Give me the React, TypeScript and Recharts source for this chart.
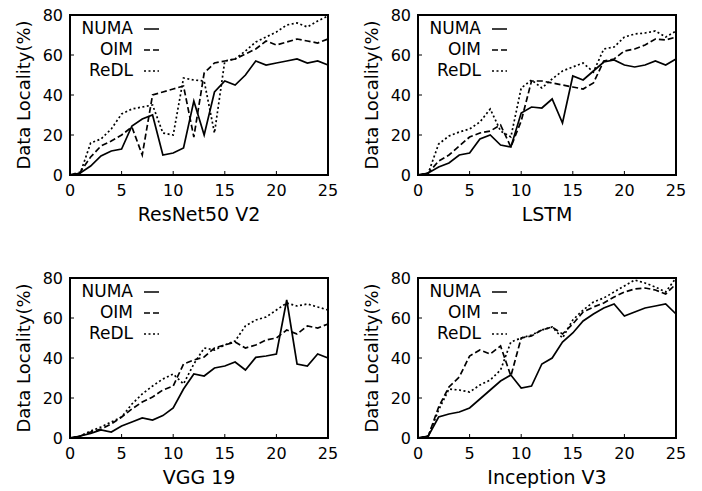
import { LineChart, Line, XAxis, YAxis, Legend, Label } from "recharts";

const xValues = [
  0, 1, 2, 3, 4, 5, 6, 7, 8, 9, 10, 11, 12, 13, 14, 15, 16, 17, 18, 19, 20, 21, 22, 23, 24, 25,
];
const xTicks = [0, 5, 10, 15, 20, 25];
const yTicks = [0, 20, 40, 60, 80];

// ResNet50 V2
const resnetNuma = [0, 1, 4.5, 9.5, 12, 13, 24.5, 28, 30, 10, 11, 13.5, 37, 20, 41.5, 47, 45, 50, 57, 55, 56, 57, 58, 56, 57, 55];
const resnetOim = [0, 1.5, 9, 14.5, 17, 20, 24, 10, 40, 41.5, 43, 44.5, 19, 51, 56, 57, 58, 60.5, 63, 67, 65, 66.5, 68, 67, 66, 68];
const resnetRedl = [0, 1, 16, 18, 23, 30.5, 33, 34, 35, 21, 20, 48.5, 47.5, 47, 21, 57, 58, 62, 66.5, 69, 71.5, 75, 76, 74, 77, 79.5];

// LSTM
const lstmNuma = [0, 1, 4, 6, 10, 11, 18, 20, 15, 14, 31, 34, 33.5, 38, 26, 49.5, 47.5, 52, 56.5, 57.5, 55, 54, 55, 57, 55, 58];
const lstmOim = [0, 1, 7, 10, 14.5, 19, 21, 22, 25, 14, 27, 47, 47, 46, 45, 44, 43, 46, 57, 58, 62, 63, 65, 68, 67.5, 69];
const lstmRedl = [0, 1, 15.5, 19.5, 21.5, 23, 26.5, 33, 22, 19, 43.5, 47.5, 43.5, 48, 52, 54, 56, 51.5, 63, 64, 69, 70.5, 71, 72, 69, 72];

// VGG 19
const vggNuma = [0, 1, 2.3, 4, 3, 6, 8, 10, 9, 11.2, 15, 24.5, 32, 31, 35, 36, 38, 34, 40.3, 41, 42, 69, 37, 36, 42, 40];
const vggOim = [0, 1, 3, 4.5, 7, 10.5, 14.5, 18, 20.5, 24, 26, 37, 39, 40.5, 45, 46.5, 48, 45, 46.5, 49, 50, 54, 52, 56, 55, 57];
const vggRedl = [0, 1, 3.5, 5.5, 8, 10.5, 17, 22, 26, 29.5, 32, 27, 37, 45, 44, 46.5, 48.5, 56, 59, 60.5, 64, 67.5, 66, 67, 65.5, 64];

// Inception V3
const inceptionNuma = [0, 1, 10.5, 12, 13, 15, 19.5, 24, 28.5, 31.5, 25, 26, 37, 40, 48, 52.5, 58.5, 62, 65, 67, 61, 63, 65, 66, 67, 62];
const inceptionOim = [0, 1, 15.5, 25.5, 30.5, 41, 44, 42, 46, 31, 50, 51, 54, 55.5, 52, 57, 63, 65.5, 67.5, 70.5, 73, 74.5, 75, 74, 72, 77];
const inceptionRedl = [0, 1, 14, 24.5, 24, 23, 26.5, 29, 34, 48, 50, 51.5, 54, 55.5, 50, 59, 64, 68, 70, 73, 76, 79, 77.5, 75.5, 73, 80];

const SERIES = [
  { key: "numa", name: "NUMA", dash: undefined as string | undefined },
  { key: "oim", name: "OIM", dash: "6 3" },
  { key: "redl", name: "ReDL", dash: "2 2.5" },
];

const buildRows = (numa: number[], oim: number[], redl: number[]) =>
  xValues.map((x, i) => ({ x, numa: numa[i], oim: oim[i], redl: redl[i] }));

const PANELS = [
  { title: "ResNet50 V2", rows: buildRows(resnetNuma, resnetOim, resnetRedl), left: 0, top: 0 },
  { title: "LSTM", rows: buildRows(lstmNuma, lstmOim, lstmRedl), left: 348, top: 0 },
  { title: "VGG 19", rows: buildRows(vggNuma, vggOim, vggRedl), left: 0, top: 263 },
  { title: "Inception V3", rows: buildRows(inceptionNuma, inceptionOim, inceptionRedl), left: 348, top: 263 },
];

const FONT = "'DejaVu Sans', sans-serif";
const MARGIN = { top: 15, right: 23, bottom: 3, left: 10 };
const CHART_W = 351;
const CHART_H = 228;
const Y_AXIS_W = 60;
const X_AXIS_H = 50;

const LegendBox = () => (
  <div style={{ fontFamily: FONT, fontSize: 17, color: "#000" }}>
    {SERIES.map((s) => (
      <div key={s.key} style={{ display: "flex", alignItems: "center", height: 21, lineHeight: "21px" }}>
        <span style={{ width: 60, textAlign: "right" }}>{s.name}</span>
        <svg width={15} height={4} style={{ marginLeft: 11 }}>
          <line x1={0} y1={2} x2={15} y2={2} stroke="#000" strokeWidth={1.5} strokeDasharray={s.dash} />
        </svg>
      </div>
    ))}
  </div>
);

const Panel = ({ title, rows }: { title: string; rows: { x: number }[] }) => (
  <LineChart width={CHART_W} height={CHART_H} data={rows} margin={MARGIN}>
    <XAxis
      dataKey="x"
      type="number"
      domain={[0, 25]}
      ticks={xTicks}
      interval={0}
      height={X_AXIS_H}
      stroke="#000"
      tickSize={-4}
      tickMargin={14}
      tick={{ fontSize: 16, fill: "#000" }}
    >
      <Label value={title} position="insideBottom" offset={4} style={{ fontSize: 19, fill: "#000" }} />
    </XAxis>
    <YAxis
      type="number"
      domain={[0, 80]}
      ticks={yTicks}
      interval={0}
      width={Y_AXIS_W}
      stroke="#000"
      tickSize={-4}
      tickMargin={11}
      tick={{ fontSize: 16, fill: "#000" }}
    >
      <Label
        value="Data Locality(%)"
        angle={-90}
        position="insideLeft"
        offset={14}
        style={{ textAnchor: "middle", fontSize: 18, fill: "#000" }}
      />
    </YAxis>
    <Legend
      layout="vertical"
      align="center"
      verticalAlign="middle"
      content={<LegendBox />}
      wrapperStyle={{ left: 73, top: 18, width: "auto", height: "auto" }}
    />
    {SERIES.map((s) => (
      <Line
        key={s.key}
        dataKey={s.key}
        name={s.name}
        type="linear"
        stroke="#000"
        strokeWidth={1.7}
        strokeDasharray={s.dash}
        dot={false}
        activeDot={false}
        isAnimationActive={false}
      />
    ))}
  </LineChart>
);

export default function App() {
  const plotLeft = MARGIN.left + Y_AXIS_W;
  const plotW = CHART_W - MARGIN.right - plotLeft;
  const plotH = CHART_H - MARGIN.bottom - X_AXIS_H - MARGIN.top;
  return (
    <div
      style={{
        position: "absolute",
        left: 0,
        top: 0,
        width: 702,
        height: 491,
        background: "#fff",
        fontFamily: FONT,
      }}
    >
      {PANELS.map((p) => (
        <div key={p.title} style={{ position: "absolute", left: p.left, top: p.top, width: CHART_W, height: CHART_H }}>
          <Panel title={p.title} rows={p.rows} />
          {/* box round the plot area, laid over the chart */}
          <div
            style={{
              position: "absolute",
              left: plotLeft - 1,
              top: MARGIN.top - 1,
              width: plotW + 2,
              height: plotH + 2,
              border: "2px solid #000",
              boxSizing: "border-box",
              pointerEvents: "none",
              zIndex: 5,
            }}
          />
        </div>
      ))}
    </div>
  );
}
